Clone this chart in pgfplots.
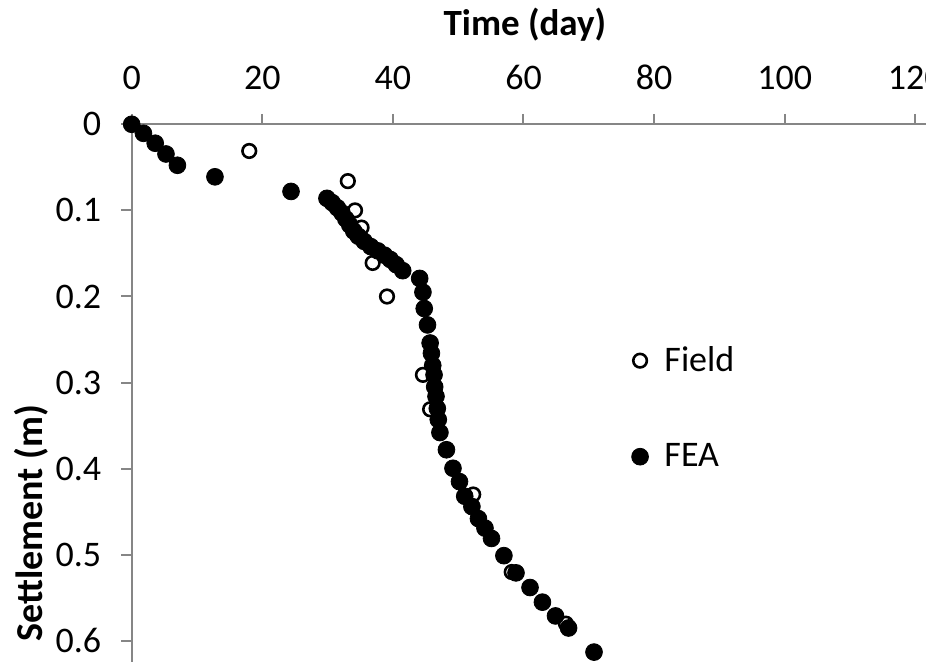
\documentclass[border=0pt]{standalone}
\usepackage{pgfplots}
\pgfplotsset{compat=1.18}
\usepackage{fontspec}
\setmainfont{Carlito}
\definecolor{axgray}{HTML}{868686}
\begin{document}
\begin{tikzpicture}
\begin{axis}[
  scale only axis,
  width=397.15pt, height=268.85pt,
  xmin=0, xmax=121.64,
  ymin=0, ymax=0.6245,
  y dir=reverse,
  axis x line=top,
  axis y line=left,
  axis line style={axgray, line width=1pt, -},
  tick style={axgray, line width=1pt},
  tick align=outside,
  major tick length=5.25pt,
  xtick={0,20,40,60,80,100,120},
  ytick={0,0.1,0.2,0.3,0.4,0.5,0.6},
  yticklabels={0,0.1,0.2,0.3,0.4,0.5,0.6},
  /pgf/number format/assume math mode=true,
  ticklabel style={font=\fontsize{18}{20}\selectfont},
  yticklabel style={xshift=-6.5pt},
  xticklabel style={yshift=8.5pt},
  xlabel={\textbf{Time (day)}},
  xlabel style={font=\fontsize{18.5}{20}\selectfont, at={(axis description cs:0.495,1.166)}, anchor=base},
  ylabel={\textbf{Settlement (m)}},
  ylabel style={font=\fontsize{19}{20}\selectfont, at={(axis description cs:-0.1268,0.2585)}, anchor=center},
  legend style={draw=none, fill=none, font=\fontsize{18}{20}\selectfont,
    at={(axis description cs:0.6214,0.472)}, anchor=west, row sep=30.5pt},
  legend cell align=left,
  /tikz/every odd column/.append style={column sep=6pt},
  clip=false,
]
\addplot[only marks, mark=o, mark size=3.4pt, mark options={black, line width=1.3pt}] coordinates {
(0,0) (18.0,0.031) (33.1,0.066) (34.2,0.100) (35.2,0.120) (36.9,0.161) (39.1,0.200)
(44.6,0.291) (45.7,0.331) (52.3,0.430) (58.2,0.520) (66.5,0.580)
};
\addlegendentry{Field}
\addplot[only marks, mark=*, mark size=4.2pt, mark options={black, fill=black, line width=0.4pt}] coordinates {
(0,0) (1.8,0.0105) (3.6,0.022) (5.25,0.0345) (7.0,0.0476) (12.75,0.061) (24.4,0.078)
(29.9,0.086) (30.7,0.091) (31.5,0.097) (32.2,0.103) (32.8,0.110) (33.4,0.117) (34.0,0.124)
(34.7,0.130) (35.6,0.136) (36.6,0.142) (37.7,0.147) (38.7,0.152) (39.6,0.157) (40.5,0.163)
(41.5,0.170) (44.1,0.179) (44.6,0.195) (44.8,0.214) (45.3,0.233) (45.7,0.254) (45.9,0.266)
(46.1,0.280) (46.3,0.291) (46.4,0.305) (46.6,0.316) (46.8,0.330) (46.95,0.343) (47.2,0.358)
(48.2,0.378) (49.2,0.3995) (50.2,0.415) (51.0,0.432) (52.1,0.444) (53.1,0.458) (54.1,0.469)
(55.1,0.481) (57.0,0.501) (58.85,0.521) (61.0,0.538) (62.9,0.555) (64.9,0.571) (66.9,0.585)
(70.8,0.613)
};
\addlegendentry{FEA}
\end{axis}
\pgfresetboundingbox
\path[use as bounding box] (-65.85pt,0pt) rectangle (397.15pt,331pt);
\end{tikzpicture}
\end{document}
